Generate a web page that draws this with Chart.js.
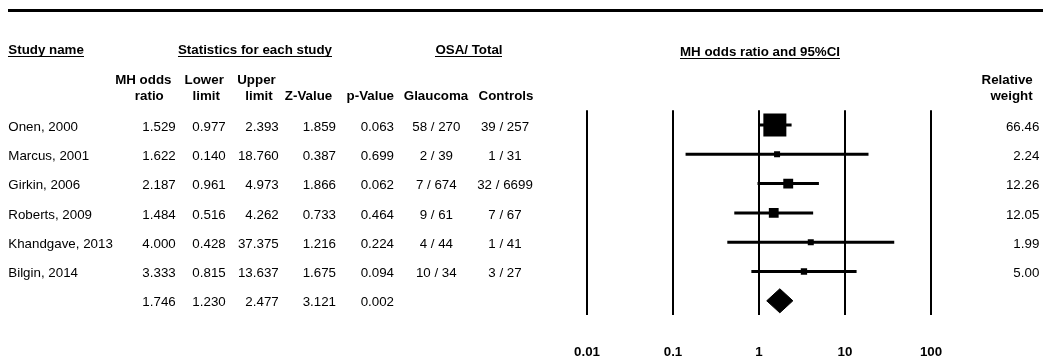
<!DOCTYPE html>
<html>
<head>
<meta charset="utf-8">
<title>MH odds ratio forest plot</title>
<script src="https://cdn.jsdelivr.net/npm/chart.js@4/dist/chart.umd.min.js"></script>
<style>
  html, body { margin: 0; padding: 0; background: #fff; }
  canvas { display: block; }
</style>
</head>
<body>
<canvas id="forest" width="1043" height="360"></canvas>
<script>
// Study-level data
const studies = ['Onen, 2000', 'Marcus, 2001', 'Girkin, 2006', 'Roberts, 2009', 'Khandgave, 2013', 'Bilgin, 2014'];
const oddsRatio = [1.529, 1.622, 2.187, 1.484, 4.000, 3.333];
const lowerLimit = [0.977, 0.140, 0.961, 0.516, 0.428, 0.815];
const upperLimit = [2.393, 18.760, 4.973, 4.262, 37.375, 13.637];
const zValue = [1.859, 0.387, 1.866, 0.733, 1.216, 1.675];
const pValue = [0.063, 0.699, 0.062, 0.464, 0.224, 0.094];
const glaucomaEvents = [58, 2, 7, 9, 4, 10];
const glaucomaTotal = [270, 39, 674, 61, 44, 34];
const controlEvents = [39, 1, 32, 7, 1, 3];
const controlTotal = [257, 31, 6699, 67, 41, 27];
const relativeWeight = [66.46, 2.24, 12.26, 12.05, 1.99, 5.00];

// Pooled (fixed effect) result: OR, lower, upper, Z, p
const pooledStats = [1.746, 1.230, 2.477, 3.121, 0.002];

// Axis
const axisTicks = [0.01, 0.1, 1, 10, 100];
const axisTickLabels = ['0.01', '0.1', '1', '10', '100'];

const FONT = '"Liberation Sans", Arial, Helvetica, sans-serif';
const pooledRow = studies.length;
const diamondHalf = 0.41;          // half height of the summary diamond, in rows
const maxWeight = Math.max(...relativeWeight);

// square side grows with sqrt(weight)
const boxRadius = relativeWeight.map(w => Math.max(6, 23 * Math.sqrt(w / maxWeight)) / Math.SQRT2);

const datasets = [];

// study point estimates
datasets.push({
  type: 'scatter',
  data: studies.map((s, i) => ({ x: oddsRatio[i], y: i })),
  pointStyle: 'rect',
  pointRadius: boxRadius,
  pointHoverRadius: boxRadius,
  backgroundColor: '#000',
  borderColor: '#000',
  pointBorderWidth: 0,
  showLine: false
});

// confidence intervals
studies.forEach((s, i) => {
  datasets.push({
    type: 'line',
    data: [{ x: lowerLimit[i], y: i }, { x: upperLimit[i], y: i }],
    borderColor: '#000',
    borderWidth: 3,
    borderCapStyle: 'butt',
    pointRadius: 0,
    fill: false,
    tension: 0
  });
});

// pooled diamond
datasets.push({
  type: 'line',
  data: [
    { x: pooledStats[1], y: pooledRow },
    { x: pooledStats[0], y: pooledRow - diamondHalf },
    { x: pooledStats[2], y: pooledRow },
    { x: pooledStats[0], y: pooledRow + diamondHalf },
    { x: pooledStats[1], y: pooledRow }
  ],
  borderColor: '#000',
  backgroundColor: '#000',
  borderWidth: 1,
  pointRadius: 0,
  fill: 'shape',
  tension: 0
});

// table of statistics drawn beside the plot
const tablePlugin = {
  id: 'studyTable',
  afterDraw(chart) {
    const ctx = chart.ctx;
    const yScale = chart.scales.y;
    const regular = '13.33px ' + FONT;
    const bold = 'bold 13.33px ' + FONT;
    ctx.save();
    ctx.fillStyle = '#000';
    ctx.textBaseline = 'alphabetic';

    const put = (text, x, y, align) => { ctx.textAlign = align; ctx.fillText(text, x, y); };
    const underlined = (text, x, y, align) => {
      put(text, x, y, align);
      const w = ctx.measureText(text).width;
      const left = align === 'center' ? x - w / 2 : (align === 'right' ? x - w : x);
      ctx.fillRect(Math.round(left), Math.round(y + 2), Math.round(w), 1);
    };

    // top rule
    ctx.fillRect(8, 9, 1035, 3);

    // group headers
    ctx.font = bold;
    underlined('Study name', 8.3, 54, 'left');
    underlined('Statistics for each study', 255, 54, 'center');
    underlined('OSA/ Total', 469, 54, 'center');
    underlined('MH odds ratio and 95%CI', 760, 55.5, 'center');

    // column headers
    put('MH odds', 143.3, 84, 'center');
    put('ratio', 149.3, 100, 'center');
    put('Lower', 204.2, 84, 'center');
    put('limit', 206.3, 100, 'center');
    put('Upper', 256.5, 84, 'center');
    put('limit', 259, 100, 'center');
    put('Z-Value', 308.5, 100, 'center');
    put('p-Value', 370.3, 100, 'center');
    put('Glaucoma', 436, 100, 'center');
    put('Controls', 506, 100, 'center');
    put('Relative', 1032.7, 84, 'right');
    put('weight', 1032.7, 100, 'right');

    // study rows
    ctx.font = regular;
    const base = i => yScale.getPixelForValue(i) + 5.6;
    studies.forEach((name, i) => {
      const y = base(i);
      put(name, 8.3, y, 'left');
      put(oddsRatio[i].toFixed(3), 175.7, y, 'right');
      put(lowerLimit[i].toFixed(3), 225.7, y, 'right');
      put(upperLimit[i].toFixed(3), 278.7, y, 'right');
      put(zValue[i].toFixed(3), 336, y, 'right');
      put(pValue[i].toFixed(3), 394, y, 'right');
      put(glaucomaEvents[i] + ' / ' + glaucomaTotal[i], 436.3, y, 'center');
      put(controlEvents[i] + ' / ' + controlTotal[i], 505, y, 'center');
      put(relativeWeight[i].toFixed(2), 1039.3, y, 'right');
    });

    // pooled row
    const yp = base(pooledRow);
    put(pooledStats[0].toFixed(3), 175.7, yp, 'right');
    put(pooledStats[1].toFixed(3), 225.7, yp, 'right');
    put(pooledStats[2].toFixed(3), 278.7, yp, 'right');
    put(pooledStats[3].toFixed(3), 336, yp, 'right');
    put(pooledStats[4].toFixed(3), 394, yp, 'right');

    ctx.restore();
  }
};

new Chart(document.getElementById('forest'), {
  type: 'scatter',
  data: { datasets },
  plugins: [tablePlugin],
  options: {
    responsive: false,
    animation: false,
    devicePixelRatio: 1,
    events: [],
    layout: { padding: { left: 587, right: 112, top: 110.35, bottom: 0 } },
    plugins: {
      legend: { display: false },
      tooltip: { enabled: false },
      title: { display: false }
    },
    scales: {
      x: {
        type: 'logarithmic',
        min: 0.01,
        max: 100,
        afterBuildTicks(scale) {
          scale.ticks = axisTicks.map(v => ({ value: v, major: true }));
        },
        afterFit(scale) {
          scale.height = 360 - 315.45;
        },
        ticks: {
          autoSkip: false,
          maxRotation: 0,
          padding: 29,
          color: '#000',
          font: { family: FONT, size: 13.33, weight: 'bold' },
          callback: (value, index) => axisTickLabels[index]
        },
        grid: { color: '#000', lineWidth: 2, drawTicks: false },
        border: { display: false }
      },
      y: {
        type: 'linear',
        reverse: true,
        min: -0.5,
        max: pooledRow + 0.5,
        display: false
      }
    }
  }
});
</script>
</body>
</html>
